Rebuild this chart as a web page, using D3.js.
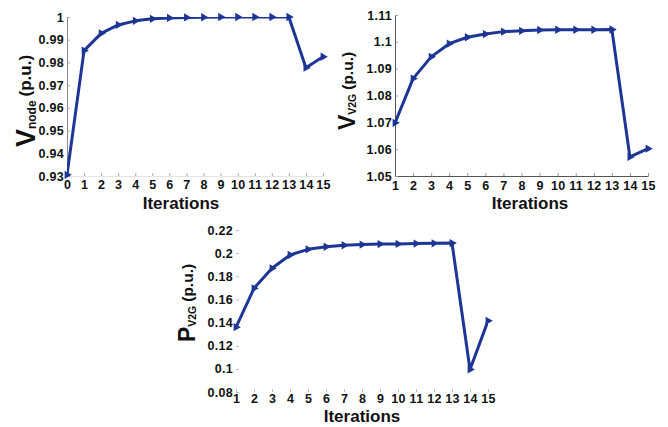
<!DOCTYPE html>
<html>
<head>
<meta charset="utf-8">
<script src="https://cdn.jsdelivr.net/npm/d3@7"></script>
<style>
  body { margin: 0; background: #fff; }
  svg { display: block; }
</style>
</head>
<body>
<svg width="668" height="427"></svg>
<script>
// iteration numbers on the x axes
var iterNode = [0, 1, 2, 3, 4, 5, 6, 7, 8, 9, 10, 11, 12, 13, 14, 15];
var iterV2G = [1, 2, 3, 4, 5, 6, 7, 8, 9, 10, 11, 12, 13, 14, 15];

// values
var vNode = [0.9305, 0.9852, 0.9928, 0.9965, 0.9983, 0.9992, 0.9996, 0.9998, 0.9999, 1.0, 1.0, 1.0, 1.0, 1.0, 0.9777, 0.9825];
var vV2G = [1.0698, 1.0863, 1.0944, 1.0993, 1.1017, 1.1029, 1.1038, 1.1041, 1.1044, 1.1045, 1.1045, 1.1045, 1.1046, 1.0571, 1.0602];
var pV2G = [0.136, 0.1696, 0.1869, 0.1984, 0.2033, 0.2055, 0.2068, 0.2074, 0.2078, 0.2080, 0.2083, 0.2085, 0.2087, 0.0995, 0.1415];

// tick values
var nodeTicksY = [0.93, 0.94, 0.95, 0.96, 0.97, 0.98, 0.99, 1];
var v2gTicksY = [1.05, 1.06, 1.07, 1.08, 1.09, 1.1, 1.11];
var pTicksY = [0.08, 0.1, 0.12, 0.14, 0.16, 0.18, 0.2, 0.22];

var svg = d3.select("svg");
var defs = svg.append("defs");
var lineColor = "#1d3696";
var fontFam = "'Liberation Sans', Arial, sans-serif";

function drawPanel(p) {
  var x = d3.scaleLinear().domain(p.xDomain).range([p.left, p.right]);
  var y = d3.scaleLinear().domain(p.yDomain).range([p.bottom, p.top]);
  var g = svg.append("g");

  defs.append("clipPath").attr("id", p.id)
    .append("rect")
    .attr("x", p.left).attr("y", p.top)
    .attr("width", p.right - p.left).attr("height", p.bottom - p.top);

  // bottom axis, ticks point inwards like matlab
  var ax = g.append("g")
    .attr("transform", "translate(0," + p.bottom + ")")
    .call(d3.axisBottom(x).tickValues(p.xs).tickFormat(d3.format("d"))
      .tickSizeInner(-3).tickSizeOuter(0).tickPadding(p.xPad));
  ax.select(".domain").attr("stroke", p.xAxisColor);
  ax.selectAll(".tick line").attr("stroke", p.tickColor);
  ax.selectAll("text")
    .attr("font-family", fontFam).attr("font-size", 12.5).attr("font-weight", "bold")
    .attr("letter-spacing", 0.3).attr("fill", "#111");

  var ay = g.append("g")
    .attr("transform", "translate(" + p.left + ",0)")
    .call(d3.axisLeft(y).tickValues(p.yTicks).tickFormat(function(d) { return String(d); })
      .tickSizeInner(-3).tickSizeOuter(0).tickPadding(3));
  ay.select(".domain").attr("stroke", p.yAxisColor);
  ay.selectAll(".tick line").attr("stroke", p.tickColor);
  ay.selectAll("text")
    .attr("font-family", fontFam).attr("font-size", 12.5).attr("font-weight", "bold")
    .attr("letter-spacing", 0.3).attr("fill", "#111");

  var pts = d3.zip(p.xs, p.ys);

  g.append("path")
    .datum(pts)
    .attr("clip-path", "url(#" + p.id + ")")
    .attr("fill", "none")
    .attr("stroke", lineColor)
    .attr("stroke-width", 3)
    .attr("stroke-linejoin", "round")
    .attr("d", d3.line().x(function(d) { return x(d[0]); }).y(function(d) { return y(d[1]); }));

  // right pointing triangle markers
  g.selectAll("path.mk")
    .data(pts)
    .enter().append("path")
    .attr("class", "mk")
    .attr("d", d3.symbol(d3.symbolTriangle, 30))
    .attr("transform", function(d) { return "translate(" + x(d[0]) + "," + y(d[1]) + ") rotate(90)"; })
    .attr("fill", lineColor);

  g.append("text")
    .attr("x", p.xTitle[0]).attr("y", p.xTitle[1])
    .attr("text-anchor", "middle")
    .attr("font-family", fontFam).attr("font-size", 17).attr("font-weight", "bold")
    .attr("fill", "#111")
    .text("Iterations");

  var t = g.append("text")
    .attr("transform", "translate(" + p.yTitle[0] + "," + p.yTitle[1] + ") rotate(-90)")
    .attr("text-anchor", "middle")
    .attr("font-family", fontFam).attr("font-weight", "bold").attr("fill", "#111");
  t.append("tspan").attr("font-size", p.titleSizes[0]).text(p.sym);
  t.append("tspan").attr("font-size", p.titleSizes[1]).attr("dy", 1).text(p.sub);
  t.append("tspan").attr("font-size", p.titleSizes[2]).attr("dx", 4).attr("dy", p.restShift).text("(p.u.)");
}

drawPanel({
  id: "clipNode", xs: iterNode, ys: vNode, yTicks: nodeTicksY,
  xDomain: [0, 15], yDomain: [0.93, 1],
  left: 67, right: 323, top: 17, bottom: 176,
  xPad: 4, xAxisColor: "#e4e4e4", yAxisColor: "#8a8a8a", tickColor: "#aaa",
  xTitle: [181, 209], yTitle: [35, 101], sym: "V", sub: "node",
  titleSizes: [27, 12, 17], restShift: -5
});

drawPanel({
  id: "clipV2G", xs: iterV2G, ys: vV2G, yTicks: v2gTicksY,
  xDomain: [1, 15], yDomain: [1.05, 1.11],
  left: 395, right: 648, top: 15, bottom: 176,
  xPad: 5, xAxisColor: "#555", yAxisColor: "#555", tickColor: "#999",
  xTitle: [530, 209], yTitle: [355, 91], sym: "V", sub: "V2G",
  titleSizes: [23, 10.5, 15.5], restShift: -3
});

drawPanel({
  id: "clipP", xs: iterV2G, ys: pV2G, yTicks: pTicksY,
  xDomain: [1, 15], yDomain: [0.08, 0.22],
  left: 236, right: 488, top: 230, bottom: 392,
  xPad: 2, xAxisColor: "none", yAxisColor: "none", tickColor: "#bbb",
  xTitle: [362, 422], yTitle: [195, 303], sym: "P", sub: "V2G",
  titleSizes: [23, 10.5, 15.5], restShift: -3
});
</script>
</body>
</html>
